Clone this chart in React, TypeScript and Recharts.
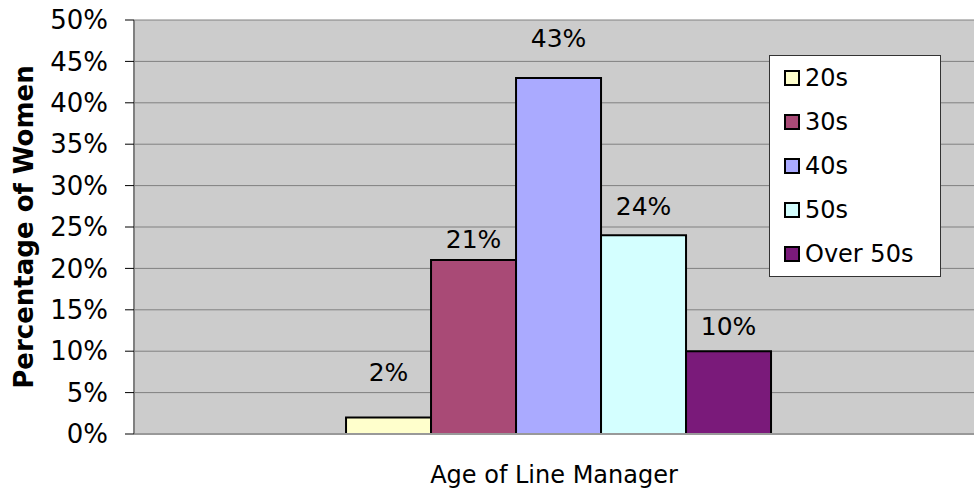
import { BarChart, Bar, XAxis, YAxis, CartesianGrid, Legend, LabelList, Label } from "recharts";

const category = ["Age of Line Manager"];
const seriesNames = ["20s", "30s", "40s", "50s", "Over 50s"];
const seriesValues = [0.02, 0.21, 0.43, 0.24, 0.1];
const yTicks = [0, 0.05, 0.1, 0.15, 0.2, 0.25, 0.3, 0.35, 0.4, 0.45, 0.5];

const colors = ["#FFFFCC", "#A94A76", "#AAAAFF", "#D4FFFF", "#7A1A7A"];
const labelOffsets = [36, 12, 31, 20, 16];

const data = category.map((name) => {
  const row: Record<string, string | number> = { name };
  seriesNames.forEach((s, i) => (row[s] = seriesValues[i]));
  return row;
});

const font = "Verdana, 'DejaVu Sans', sans-serif";
const pct = (v: number) => `${Math.round(v * 100)}%`;

function LegendBox() {
  return (
    <div
      style={{
        width: 170,
        height: 220,
        background: "#fff",
        border: "1px solid #333",
        boxSizing: "content-box",
        fontFamily: font,
        fontSize: 24,
        color: "#000",
      }}
    >
      {seriesNames.map((s, i) => (
        <div key={s} style={{ display: "flex", alignItems: "center", height: 44, paddingLeft: 14 }}>
          <span
            style={{
              display: "inline-block",
              width: 12,
              height: 12,
              background: colors[i],
              border: "2px solid #000",
              marginRight: 5,
            }}
          />
          <span>{s}</span>
        </div>
      ))}
    </div>
  );
}

export default function App() {
  return (
    <div style={{ position: "absolute", left: 0, top: 0, width: 974, height: 488, background: "#fff" }}>
      <BarChart
        width={974}
        height={488}
        data={data}
        margin={{ top: 20, right: 0, left: 0, bottom: 0 }}
        barCategoryGap="24.25%"
        barGap={0}
      >
        <CartesianGrid vertical={false} fill="#CCCCCC" stroke="#808080" horizontalValues={yTicks} />
        <XAxis
          dataKey="name"
          tick={false}
          tickLine={false}
          axisLine={{ stroke: "#999", strokeWidth: 2 }}
          height={54}
          padding={{ left: 11, right: 0 }}
        >
          <Label
            value="Age of Line Manager"
            position="insideBottom"
            offset={5}
            style={{ fontFamily: font, fontSize: 24, fill: "#000" }}
          />
        </XAxis>
        <YAxis
          width={134}
          domain={[0, 0.5]}
          ticks={yTicks}
          tickFormatter={pct}
          tickSize={9}
          tickMargin={17}
          tickLine={{ stroke: "#000" }}
          axisLine={{ stroke: "#808080", strokeWidth: 2 }}
          tick={{ fontFamily: font, fontSize: 26, fill: "#000" }}
          interval={0}
        >
          <Label
            value="Percentage of Women"
            angle={-90}
            position="insideLeft"
            offset={24}
            style={{ fontFamily: font, fontSize: 26, fontWeight: "bold", fill: "#000", textAnchor: "middle" }}
          />
        </YAxis>
        <Legend
          layout="horizontal"
          align="center"
          verticalAlign="middle"
          content={<LegendBox />}
          wrapperStyle={{ left: 769, top: 55, width: 172, right: "auto" }}
        />
        {seriesNames.map((s, i) => (
          <Bar key={s} dataKey={s} fill={colors[i]} stroke="#000" strokeWidth={2} isAnimationActive={false}>
            <LabelList
              dataKey={s}
              position="top"
              offset={labelOffsets[i]}
              formatter={(v: any) => pct(Number(v))}
              style={{ fontFamily: font, fontSize: 25, fill: "#000" }}
            />
          </Bar>
        ))}
      </BarChart>
    </div>
  );
}
